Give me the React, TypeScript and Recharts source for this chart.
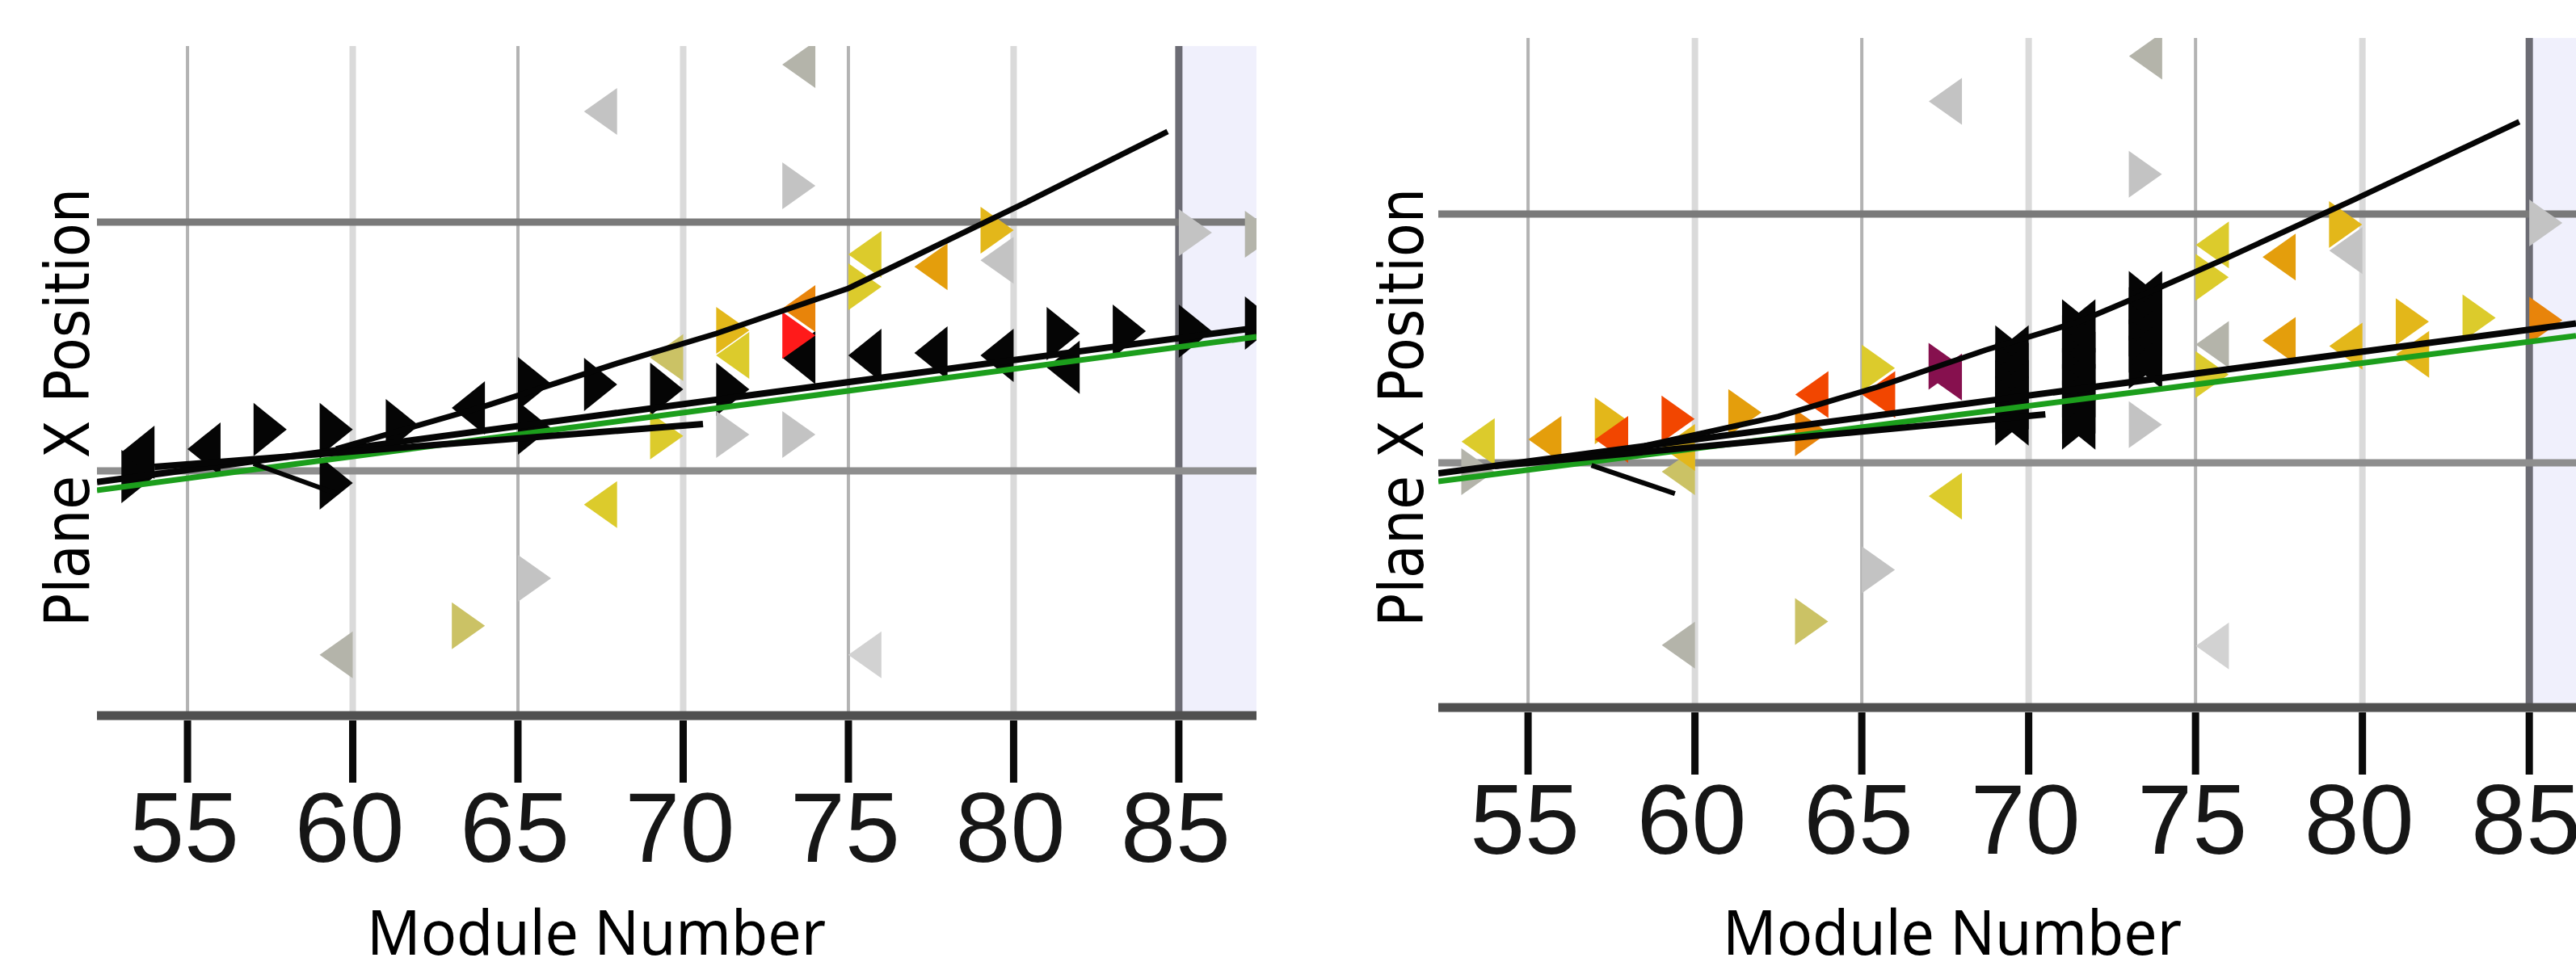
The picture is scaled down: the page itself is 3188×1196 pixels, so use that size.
// App.tsx — two panels of plane X position vs module number, triangle hits + fitted tracks.

import {
  ComposedChart,
  Line,
  ReferenceArea,
  ReferenceLine,
  Scatter,
  XAxis,
  YAxis,
} from "recharts";

type Dir = "L" | "R";
type Hit = { m: number; v: number; d: Dir; k: string };
type Pt = { m: number; v: number };

const TICKS = [55, 60, 65, 70, 75, 80, 85];
const MID_GRID = [55, 65, 75];
const LIGHT_GRID = [60, 70, 80];
const EDGE_MODULE = 85;
const PLANE_LINES = [0, 10];
const Y_DOMAIN: [number, number] = [-9.84, 17.08];

const hit = (m: number, v: number, d: Dir, k: string): Hit => ({ m, v, d, k });
const pt = (m: number, v: number): Pt => ({ m, v });

// ---- left panel ----
const leftHits: Hit[] = [
  hit(53, -0.23, "R", "black"), hit(54, 0.75, "L", "black"), hit(56, 0.88, "L", "black"),
  hit(57, 1.66, "R", "black"), hit(59, 1.66, "R", "black"), hit(59, -0.49, "R", "black"),
  hit(61, 1.82, "R", "black"), hit(64, 2.53, "L", "black"), hit(65, 3.51, "R", "black"),
  hit(65, 1.72, "R", "black"), hit(67, 3.47, "R", "black"), hit(69, 3.28, "R", "black"),
  hit(71, 3.28, "R", "black"), hit(74, 4.55, "L", "black"), hit(76, 4.64, "L", "black"),
  hit(78, 4.74, "L", "black"), hit(80, 4.64, "L", "black"), hit(81, 5.52, "R", "black"),
  hit(82, 4.16, "L", "black"), hit(83, 5.62, "R", "black"), hit(85, 5.62, "R", "black"),
  hit(87, 5.94, "R", "black"),
  hit(68, 14.45, "L", "grey"), hit(73, 11.46, "R", "grey"), hit(85, 9.58, "R", "grey"),
  hit(71, 1.46, "R", "grey"), hit(73, 1.46, "R", "grey"), hit(65, -4.32, "R", "grey"),
  hit(76, -7.4, "L", "pale"), hit(80, 8.47, "L", "grey"),
  hit(74, 16.33, "L", "stone"), hit(60, -7.4, "L", "stone"), hit(87, 9.51, "R", "stone"),
  hit(63, -6.23, "R", "olive"),
  hit(76, 8.7, "L", "yellow"), hit(75, 7.4, "R", "yellow"), hit(72, 4.64, "L", "yellow"),
  hit(70, 4.55, "L", "olive"), hit(69, 1.4, "R", "yellow"), hit(68, -1.36, "L", "yellow"),
  hit(79, 9.68, "R", "gold"), hit(71, 5.65, "R", "gold"),
  hit(78, 8.21, "L", "orange"), hit(74, 6.53, "L", "amber"), hit(73, 5.45, "R", "red"),
];
const leftTruth: Pt[] = [pt(52.26, -0.78), pt(87.35, 5.39)];
const leftFitA: Pt[] = [pt(52.26, -0.45), pt(87.35, 5.75)];
const leftFitB: Pt[] = [
  pt(59.5, 0.88), pt(64, 2.6), pt(68, 4.32), pt(71, 5.52),
  pt(75, 7.34), pt(80.4, 10.81), pt(84.66, 13.64),
];
const leftFitC: Pt[] = [pt(54, 0.16), pt(70.6, 1.88)];
const leftFitD: Pt[] = [pt(57, 0.29), pt(59.5, -0.91)];

// ---- right panel ----
const rightHits: Hit[] = [
  hit(69, 4.46, "R", "black"), hit(70, 4.46, "L", "black"), hit(69, 3.76, "R", "black"),
  hit(70, 3.76, "L", "black"), hit(69, 3.06, "R", "black"), hit(70, 3.06, "L", "black"),
  hit(69, 2.41, "R", "black"), hit(70, 2.41, "L", "black"), hit(69, 1.76, "R", "black"),
  hit(70, 1.76, "L", "black"),
  hit(71, 5.5, "R", "black"), hit(72, 5.5, "L", "black"), hit(71, 4.85, "R", "black"),
  hit(72, 4.85, "L", "black"), hit(71, 4.2, "R", "black"), hit(72, 4.2, "L", "black"),
  hit(71, 3.55, "R", "black"), hit(72, 3.55, "L", "black"), hit(71, 2.9, "R", "black"),
  hit(72, 2.9, "L", "black"), hit(71, 2.25, "R", "black"), hit(72, 2.25, "L", "black"),
  hit(71, 1.6, "R", "black"), hit(72, 1.6, "L", "black"),
  hit(73, 6.64, "R", "black"), hit(74, 6.64, "L", "black"), hit(73, 5.99, "R", "black"),
  hit(74, 5.99, "L", "black"), hit(73, 5.34, "R", "black"), hit(74, 5.34, "L", "black"),
  hit(73, 4.69, "R", "black"), hit(74, 4.69, "L", "black"), hit(73, 4.04, "R", "black"),
  hit(74, 4.04, "L", "black"),
  hit(68, 14.53, "L", "grey"), hit(73, 11.6, "R", "grey"), hit(85, 9.64, "R", "grey"),
  hit(73, 1.53, "R", "grey"), hit(65, -4.3, "R", "grey"), hit(76, -7.36, "L", "pale"),
  hit(80, 8.53, "L", "grey"),
  hit(74, 16.35, "L", "stone"), hit(60, -7.33, "L", "stone"), hit(76, 4.76, "L", "stone"),
  hit(53, -0.36, "R", "stone"),
  hit(63, -6.38, "R", "olive"), hit(60, -0.36, "L", "olive"),
  hit(76, 8.76, "L", "yellow"), hit(75, 7.46, "R", "yellow"), hit(68, -1.34, "L", "yellow"),
  hit(75, 3.55, "R", "yellow"), hit(54, 0.85, "L", "yellow"), hit(65, 3.81, "R", "yellow"),
  hit(83, 5.83, "R", "yellow"),
  hit(79, 9.58, "R", "gold"), hit(57, 1.69, "R", "gold"), hit(80, 4.69, "L", "gold"),
  hit(81, 5.67, "R", "gold"), hit(82, 4.36, "L", "gold"), hit(60, 0.62, "L", "gold"),
  hit(78, 8.27, "L", "orange"), hit(56, 0.94, "L", "orange"), hit(61, 2.02, "R", "orange"),
  hit(78, 4.92, "L", "orange"), hit(63, 1.21, "R", "amber"), hit(85, 5.73, "R", "amber"),
  hit(58, 0.94, "L", "vermilion"), hit(59, 1.76, "R", "vermilion"),
  hit(64, 2.74, "L", "vermilion"), hit(66, 2.74, "L", "vermilion"),
  hit(67, 3.88, "R", "plum"), hit(68, 3.45, "L", "plum"),
];
const rightTruth: Pt[] = [pt(52.31, -0.75), pt(86.4, 5.11)];
const rightFitA: Pt[] = [pt(52.31, -0.42), pt(86.4, 5.6)];
const rightFitB: Pt[] = [
  pt(58.5, 0.68), pt(62.5, 1.86), pt(65.5, 3.06), pt(68.7, 4.53), pt(71.5, 5.67),
  pt(73.8, 6.97), pt(75.9, 8.21), pt(79.7, 10.55), pt(84.7, 13.71),
];
const rightFitC: Pt[] = [pt(54, -0.13), pt(70.5, 1.95)];
const rightFitD: Pt[] = [pt(56.9, -0.1), pt(59.4, -1.24)];

const KIND_COLORS: Record<string, string> = {
  black: "#050505",
  grey: "#c3c3c3",
  pale: "#d2d2d2",
  stone: "#b4b4aa",
  olive: "#cbc265",
  yellow: "#dccb2c",
  gold: "#e3b71a",
  orange: "#e49e0c",
  amber: "#e8840a",
  vermilion: "#f24600",
  red: "#ff1a1a",
  plum: "#86104e",
};

type Rect = { x0: number; x1: number; y0: number; y1: number };

function clipAxis(pts: number[][], axis: number, bound: number, keepGreater: boolean) {
  const out: number[][] = [];
  for (let i = 0; i < pts.length; i++) {
    const a = pts[i];
    const b = pts[(i + 1) % pts.length];
    const ina = keepGreater ? a[axis] >= bound : a[axis] <= bound;
    const inb = keepGreater ? b[axis] >= bound : b[axis] <= bound;
    if (ina) out.push(a);
    if (ina !== inb) {
      const t = (bound - a[axis]) / (b[axis] - a[axis]);
      out.push([a[0] + t * (b[0] - a[0]), a[1] + t * (b[1] - a[1])]);
    }
  }
  return out;
}

function clipToRect(pts: number[][], r: Rect) {
  let p = clipAxis(pts, 0, r.x0, true);
  p = clipAxis(p, 0, r.x1, false);
  p = clipAxis(p, 1, r.y0, true);
  p = clipAxis(p, 1, r.y1, false);
  return p;
}

const TRI_W = 41;
const TRI_HALF = 29;
const TRI_HALF_BLACK = 33;

const makeTriangle = (clip: Rect) => (props: any) => {
  const { cx, cy, payload } = props;
  if (cx == null || cy == null) return <g />;
  const half = payload.k === "black" ? TRI_HALF_BLACK : TRI_HALF;
  const tip = payload.d === "R" ? cx + TRI_W : cx - TRI_W;
  const poly = clipToRect([[cx, cy - half], [tip, cy], [cx, cy + half]], clip);
  if (poly.length < 3) return <g />;
  return <polygon points={poly.map((p) => `${p[0]},${p[1]}`).join(" ")} fill={KIND_COLORS[payload.k]} />;
};

const XTick = (props: any) => {
  const { x, y, payload } = props;
  return (
    <g>
      <rect x={x - 4.5} y={y + 6} width={9} height={77} fill="#0a0a0a" />
      <text
        x={x - 4}
        y={y + 181}
        textAnchor="middle"
        fontFamily="'Liberation Sans', Arial, sans-serif"
        fontSize={122}
        fill="#161616"
      >
        {payload.value}
      </text>
    </g>
  );
};

type PanelCfg = {
  left: number;
  width: number;
  top: number;
  plotLeft: number;
  plotRight: number;
  plotBottom: number;
  xDomain: [number, number];
  hits: Hit[];
  truth: Pt[];
  fitA: Pt[];
  fitB: Pt[];
  fitC: Pt[];
  fitD: Pt[];
  yTitleX: number;
  xTitleX: number;
};

const HEIGHT = 1196;

function Panel({ c }: { c: PanelCfg }) {
  const clip: Rect = { x0: c.plotLeft, x1: c.plotRight, y0: c.top, y1: c.plotBottom };
  const titles = () => (
    <g>
      <text
        transform={`translate(${c.yTitleX}, 504.5) rotate(-90)`}
        textAnchor="middle"
        fontFamily="'DejaVu Sans', Verdana, sans-serif"
        fontSize={76}
        textLength={543}
        lengthAdjust="spacingAndGlyphs"
        fill="#000"
      >
        Plane X Position
      </text>
      <text
        x={c.xTitleX}
        y={1182}
        textAnchor="middle"
        fontFamily="'Noto Sans', 'Open Sans', sans-serif"
        fontSize={76}
        textLength={568}
        lengthAdjust="spacingAndGlyphs"
        fill="#000"
      >
        Module Number
      </text>
    </g>
  );
  return (
    <div style={{ position: "absolute", left: c.left, top: 0 }}>
      <ComposedChart
        width={c.width}
        height={HEIGHT}
        margin={{ top: c.top, right: c.width - c.plotRight, bottom: 0, left: c.plotLeft }}
      >
        <XAxis
          dataKey="m"
          type="number"
          domain={c.xDomain}
          allowDataOverflow
          ticks={TICKS}
          interval={0}
          height={HEIGHT - c.plotBottom}
          axisLine={{ stroke: "#505050", strokeWidth: 11 }}
          tickLine={false}
          tickSize={0}
          tickMargin={0}
          tick={<XTick />}
          label={{ content: titles }}
        />
        <YAxis dataKey="v" type="number" domain={Y_DOMAIN} allowDataOverflow hide />
        <ReferenceArea
          x1={EDGE_MODULE}
          x2={c.xDomain[1]}
          y1={Y_DOMAIN[0]}
          y2={Y_DOMAIN[1]}
          fill="#f0f0fc"
          fillOpacity={1}
          stroke="none"
          zIndex={100}
        />
        {MID_GRID.map((m) => (
          <ReferenceLine key={`m${m}`} x={m} stroke="#b3b3b3" strokeWidth={4} zIndex={200} />
        ))}
        {LIGHT_GRID.map((m) => (
          <ReferenceLine key={`l${m}`} x={m} stroke="#dadada" strokeWidth={8} zIndex={200} />
        ))}
        <ReferenceLine x={EDGE_MODULE} stroke="#6c6c74" strokeWidth={9} zIndex={210} />
        {PLANE_LINES.map((v) => (
          <ReferenceLine key={`p${v}`} y={v} stroke={v === 0 ? "#8e8e8e" : "#7a7a7a"} strokeWidth={9} zIndex={210} />
        ))}
        <Scatter data={c.hits} dataKey="v" shape={makeTriangle(clip)} isAnimationActive={false} zIndex={600} />
        <Line data={c.truth} dataKey="v" stroke="#1c9e1c" strokeWidth={7} dot={false} activeDot={false} isAnimationActive={false} zIndex={700} />
        <Line data={c.fitA} dataKey="v" stroke="#050505" strokeWidth={8} dot={false} activeDot={false} isAnimationActive={false} zIndex={710} />
        <Line data={c.fitC} dataKey="v" stroke="#050505" strokeWidth={8} dot={false} activeDot={false} isAnimationActive={false} zIndex={710} />
        <Line data={c.fitD} dataKey="v" stroke="#050505" strokeWidth={6} dot={false} activeDot={false} isAnimationActive={false} zIndex={710} />
        <Line data={c.fitB} dataKey="v" stroke="#050505" strokeWidth={7} dot={false} activeDot={false} isAnimationActive={false} zIndex={710} />
      </ComposedChart>
    </div>
  );
}

const LEFT: PanelCfg = {
  left: 0,
  width: 1560,
  top: 57,
  plotLeft: 120,
  plotRight: 1555,
  plotBottom: 886,
  xDomain: [52.26, 87.35],
  hits: leftHits,
  truth: leftTruth,
  fitA: leftFitA,
  fitB: leftFitB,
  fitC: leftFitC,
  fitD: leftFitD,
  yTitleX: 110,
  xTitleX: 738,
};

const RIGHT: PanelCfg = {
  left: 1560,
  width: 1628,
  top: 47,
  plotLeft: 220,
  plotRight: 1628,
  plotBottom: 876,
  xDomain: [52.31, 86.4],
  hits: rightHits,
  truth: rightTruth,
  fitA: rightFitA,
  fitB: rightFitB,
  fitC: rightFitC,
  fitD: rightFitD,
  yTitleX: 201,
  xTitleX: 856,
};

export default function App() {
  return (
    <div
      style={{
        position: "absolute",
        left: 0,
        top: 0,
        width: 3188,
        height: HEIGHT,
        background: "#ffffff",
        overflow: "hidden",
      }}
    >
      <Panel c={LEFT} />
      <Panel c={RIGHT} />
    </div>
  );
}
